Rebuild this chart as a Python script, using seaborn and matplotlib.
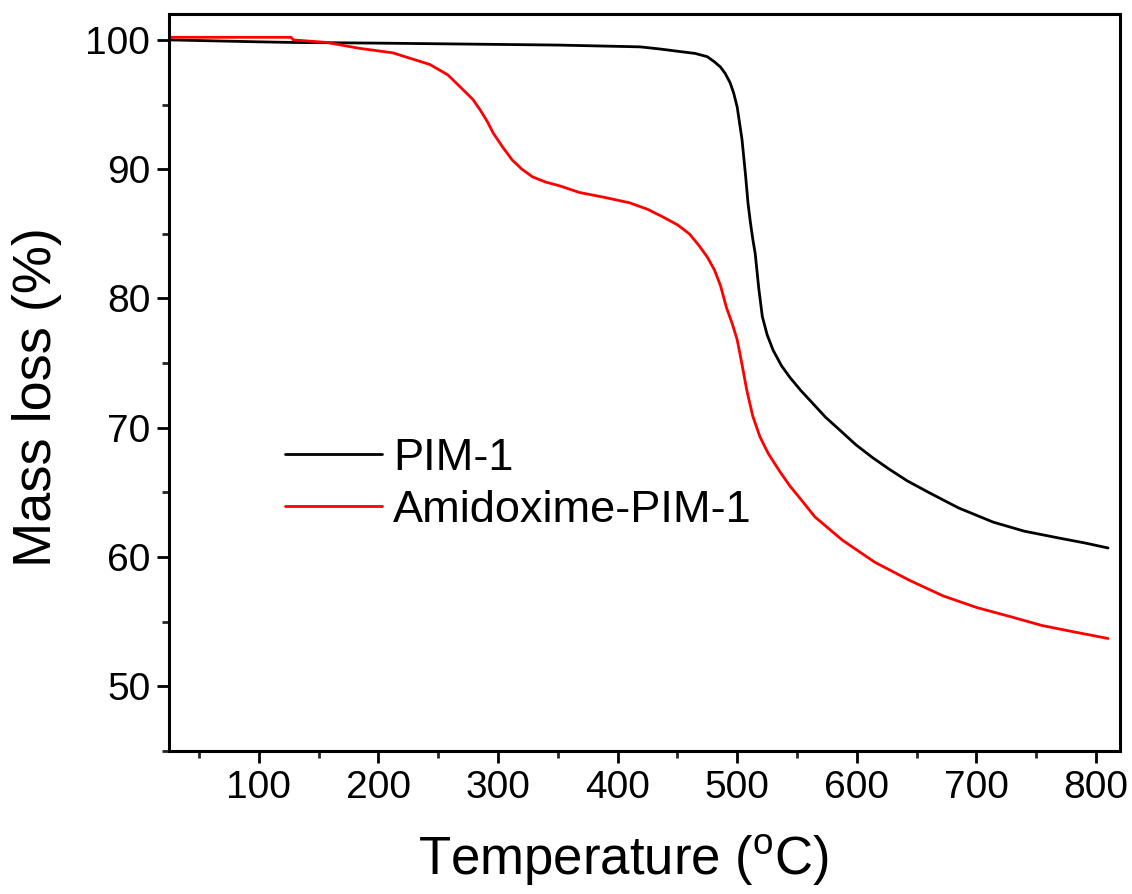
import matplotlib
matplotlib.use("Agg")
import matplotlib.pyplot as plt
from matplotlib.ticker import MultipleLocator
import seaborn as sns
import pandas as pd

# ---- data ----
pim_temp = [25, 50, 75, 100, 130, 160, 200, 250, 300, 350, 400, 419, 435, 452,
            465, 475, 481, 486, 490, 494, 497, 500, 504, 507, 509, 511, 513, 515,
            518, 521, 525, 530, 537, 544, 553, 563, 574, 586, 599, 613, 627, 642,
            660, 685, 714, 740, 770, 790, 810]
pim_mass = [100.0, 99.95, 99.9, 99.85, 99.8, 99.78, 99.75, 99.7, 99.65, 99.6,
            99.5, 99.46, 99.3, 99.1, 98.95, 98.7, 98.3, 97.9, 97.4, 96.7, 95.9,
            94.8, 92.3, 89.5, 87.4, 85.9, 84.6, 83.5, 80.8, 78.6, 77.2, 76.0,
            74.8, 73.9, 72.9, 71.9, 70.8, 69.8, 68.7, 67.7, 66.8, 65.9, 65.0,
            63.8, 62.7, 62.0, 61.45, 61.1, 60.7]

amid_temp = [25, 60, 100, 127, 129, 157, 184, 212, 243, 258, 268, 279, 285, 291,
             296, 304, 312, 320, 329, 340, 352, 368, 390, 410, 425, 438, 450,
             460, 468, 475, 481, 486, 491, 496, 500, 504, 508, 513, 519, 526,
             535, 544, 552, 565, 588, 615, 644, 672, 700, 728, 755, 782, 810]
amid_mass = [100.2, 100.2, 100.2, 100.2, 100.0, 99.8, 99.35, 99.0, 98.1, 97.3,
             96.4, 95.4, 94.6, 93.7, 92.8, 91.7, 90.7, 90.0, 89.4, 89.0, 88.7,
             88.2, 87.8, 87.4, 86.9, 86.3, 85.7, 85.0, 84.1, 83.2, 82.2, 81.0,
             79.3, 78.0, 76.8, 74.9, 72.9, 70.9, 69.3, 68.0, 66.7, 65.5, 64.6,
             63.1, 61.3, 59.6, 58.2, 57.0, 56.1, 55.4, 54.7, 54.2, 53.7]

series_names = ["PIM-1", "Amidoxime-PIM-1"]
series_colors = ["#000000", "#ff0000"]

x_ticks = [100, 200, 300, 400, 500, 600, 700, 800]
y_ticks = [50, 60, 70, 80, 90, 100]

df = pd.concat([
    pd.DataFrame({"T": pim_temp, "m": pim_mass, "s": series_names[0]}),
    pd.DataFrame({"T": amid_temp, "m": amid_mass, "s": series_names[1]}),
])

sns.set_style("ticks")
plt.rcParams["font.family"] = ["Liberation Sans", "DejaVu Sans"]
plt.rcParams["mathtext.fontset"] = "custom"
plt.rcParams["mathtext.rm"] = "Liberation Sans"
plt.rcParams["text.color"] = "black"
plt.rcParams["axes.labelcolor"] = "black"

fig = plt.figure(figsize=(11.32, 8.94), dpi=100)
ax = fig.add_axes([0.1493, 0.16, 0.8401, 0.8243])

sns.lineplot(data=df, x="T", y="m", hue="s", palette=series_colors,
             hue_order=series_names, sort=False, estimator=None,
             linewidth=2.0, ax=ax)

ax.set_xlim(25, 820)
ax.set_ylim(45, 102)
ax.set_xticks(x_ticks)
ax.set_yticks(y_ticks)
ax.xaxis.set_minor_locator(MultipleLocator(50))
ax.yaxis.set_minor_locator(MultipleLocator(5))
ax.tick_params(which="major", direction="out", length=8.5, width=2.0,
               labelsize=28, colors="black", pad=5)
ax.tick_params(which="minor", direction="out", length=5, width=2.0)
for sp in ax.spines.values():
    sp.set_visible(True)
    sp.set_linewidth(2.2)
    sp.set_color("black")

ax.set_xlabel("Temperature ($^{\\mathrm{o}}$C)", fontsize=38)
ax.set_ylabel("Mass loss (%)", fontsize=39)
ax.xaxis.set_label_coords(0.478, -0.11)
ax.yaxis.set_label_coords(-0.113, 0.48)

leg = ax.legend(loc="upper left", bbox_to_anchor=(0.122, 0.425), frameon=False,
                fontsize=32.5, handlelength=2.15, handletextpad=0.25,
                labelspacing=0.25, borderpad=0, borderaxespad=0, title=None)
for h in leg.get_lines():
    h.set_linewidth(2.0)

fig.savefig("out.png", dpi=100)
